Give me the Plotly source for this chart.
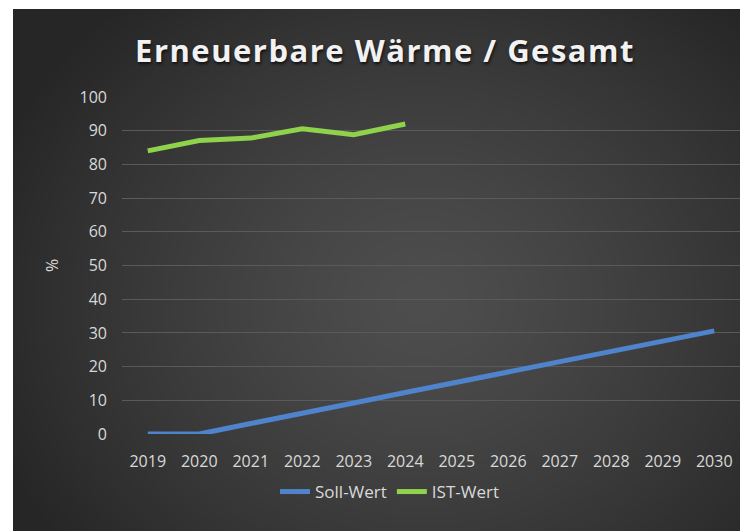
import base64
import struct
import zlib

import numpy as np
import plotly.graph_objs as go

# data
years = ["2019", "2020", "2021", "2022", "2023", "2024",
         "2025", "2026", "2027", "2028", "2029", "2030"]
soll_wert = [0, 0, 3.1, 6.3, 9.2, 12.3, 15.3, 18.4, 21.4, 24.5, 27.5, 30.6]
ist_years = ["2019", "2020", "2021", "2022", "2023", "2024"]
ist_wert = [84.0, 87.1, 87.8, 90.6, 88.8, 92.0]


def gradient_png(w, h):
    # radial dark-grey background like the excel chart style
    yy, xx = np.mgrid[0:h, 0:w]
    cx, cy = w * 0.55, h * 0.55
    r = np.sqrt(((xx - cx) / (w * 0.62)) ** 2 + ((yy - cy) / (h * 0.75)) ** 2)
    r = np.clip(r, 0, 1)
    v = (78 - (78 - 38) * r ** 1.3).astype(np.uint8)
    img = np.dstack([v, v, v])
    raw = b"".join(b"\x00" + img[i].tobytes() for i in range(h))

    def chunk(tag, data):
        c = struct.pack(">I", len(data)) + tag + data
        return c + struct.pack(">I", zlib.crc32(tag + data) & 0xffffffff)

    png = b"\x89PNG\r\n\x1a\n"
    png += chunk(b"IHDR", struct.pack(">IIBBBBB", w, h, 8, 2, 0, 0, 0))
    png += chunk(b"IDAT", zlib.compress(raw, 9))
    png += chunk(b"IEND", b"")
    return "data:image/png;base64," + base64.b64encode(png).decode()


W, H = 748, 531
L, R, T, B = 114, 16, 89, 105
pw, ph = W - L - R, H - T - B

fig = go.Figure()
fig.add_trace(go.Scatter(x=years, y=soll_wert, name="Soll-Wert", mode="lines",
                         line=dict(color="#4f84cc", width=5)))
fig.add_trace(go.Scatter(x=ist_years, y=ist_wert, name="IST-Wert", mode="lines",
                         line=dict(color="#8fd24c", width=5)))

# background panel (small white margin top/left like the screenshot)
x0 = (5 - L) / pw
x1 = (W - L) / pw
y_top = (H - B - 1) / ph
y_bot = -B / ph
fig.add_layout_image(dict(source=gradient_png(743, 530), xref="paper", yref="paper",
                          x=x0, y=y_top, sizex=x1 - x0, sizey=y_top - y_bot,
                          xanchor="left", yanchor="top", sizing="stretch",
                          layer="below"))

tick_font = dict(family="Open Sans", size=16, color="#d9d9d9")
fig.update_layout(
    width=W, height=H,
    margin=dict(l=L, r=R, t=T, b=B),
    paper_bgcolor="white",
    plot_bgcolor="rgba(0,0,0,0)",
    title=dict(text='<span style="letter-spacing:1.5px">Erneuerbare Wärme / Gesamt</span>',
               x=(377 - L) / pw, xref="paper", xanchor="center",
               y=(H - 43) / H, yanchor="middle",
               font=dict(family="Open Sans", size=31, weight=700, color="#f2f2f2",
                         shadow="1px 2px 3px #111")),
    xaxis=dict(type="category", range=[-0.5, 11.5], showgrid=False, zeroline=False,
               showline=False, tickfont=tick_font, ticklabelstandoff=16),
    yaxis=dict(range=[0, 100], dtick=10, showgrid=True, gridcolor="#5a5a5a",
               gridwidth=1, zeroline=False, showline=False, tickfont=tick_font,
               ticklabelstandoff=14,
               title=dict(text="%", font=dict(family="Open Sans", size=16, color="#d9d9d9"),
                          standoff=16)),
    showlegend=True,
    legend=dict(orientation="h", x=(382 - L) / pw, xanchor="center",
                y=(H - B - 484) / ph, yanchor="middle",
                font=dict(family="Open Sans", size=17, color="#d9d9d9"),
                bgcolor="rgba(0,0,0,0)"),
)

fig.write_html("out.html")
